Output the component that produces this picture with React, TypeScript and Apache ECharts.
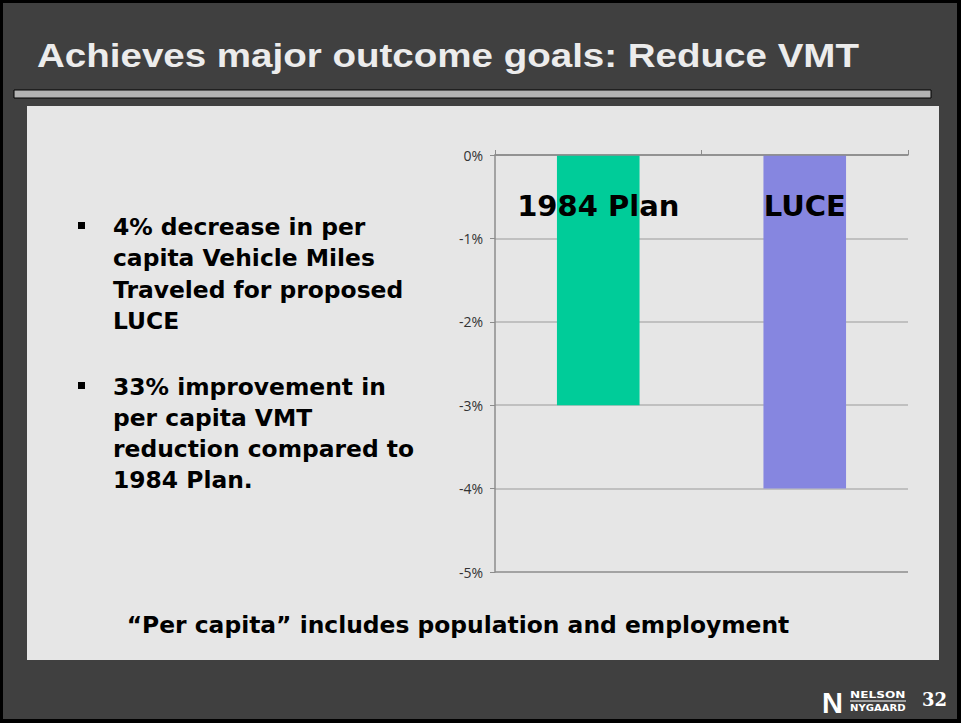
import React, { useEffect, useRef } from "react";
import * as echarts from "echarts";

const categories = ["1984 Plan", "LUCE"];
const values = [-3, -4];
const barColors = ["#00CC99", "#8686E0"];
const yMin = -5;
const yMax = 0;
const yStep = 1;

const title = "Achieves major outcome goals: Reduce VMT";
const bullet1 = ["4% decrease in per", "capita Vehicle Miles", "Traveled for proposed", "LUCE"];
const bullet2 = ["33% improvement in", "per capita VMT", "reduction compared to", "1984 Plan."];
const footnote = "\u201CPer capita\u201D includes population and employment";
const pageNumber = "32";

const BODY_FONT = "'DejaVu Sans', Verdana, sans-serif";

export default function App() {
  const ref = useRef<HTMLDivElement>(null);
  useEffect(() => {
    document.body.style.margin = "0";
    const chart = echarts.init(ref.current!, null, { renderer: "svg" });
    const gridLineColors = ["#8c8c8c", "#b3b3b3", "#b3b3b3", "#b3b3b3", "#b3b3b3", "#8c8c8c"];
    const option: any = {
      animation: false,
      backgroundColor: "#000000",
      grid: { left: 495, top: 155, width: 413, height: 417, containLabel: false },
      xAxis: {
        type: "category",
        data: categories,
        position: "top",
        axisLine: { show: true, lineStyle: { color: "#8c8c8c", width: 1.5 } },
        axisTick: { show: true, interval: 0, length: 5, alignWithLabel: false, lineStyle: { color: "#8c8c8c" } },
        axisLabel: {
          inside: true,
          interval: 0,
          hideOverlap: false,
          margin: 36,
          color: "#000000",
          fontSize: 29,
          fontWeight: "bold",
          fontFamily: BODY_FONT,
        },
        splitLine: { show: false },
        z: 10,
      },
      yAxis: {
        type: "value",
        min: yMin,
        max: yMax,
        interval: yStep,
        axisLine: { show: true, lineStyle: { color: "#8c8c8c", width: 1.5 } },
        axisTick: { show: true, length: 5, lineStyle: { color: "#8c8c8c" } },
        axisLabel: {
          formatter: "{value}%",
          color: "#333333",
          fontSize: 14,
          fontFamily: "'Open Sans', sans-serif",
          margin: 12,
        },
        splitLine: { show: true, lineStyle: { color: gridLineColors, width: 1.5 } },
      },
      series: [
        {
          type: "bar",
          data: values.map((v, i) => ({ value: v, itemStyle: { color: barColors[i] } })),
          barWidth: "40%",
          z: 2,
        },
      ],
      graphic: {
        elements: [
          { type: "rect", z: -20, silent: true, shape: { x: 3, y: 3, width: 954, height: 716 }, style: { fill: "#404040" } },
          { type: "rect", z: -19, silent: true, shape: { x: 14, y: 90, width: 917, height: 8 }, style: { fill: "#b3b3b3", stroke: "#000000", lineWidth: 1 } },
          { type: "rect", z: -19, silent: true, shape: { x: 27, y: 106, width: 912, height: 554 }, style: { fill: "#e6e6e6" } },
          {
            type: "text", z: 20, x: 37, y: 55, scaleX: 1.133, scaleY: 1,
            style: { text: title, fill: "#ececec", font: "bold 34px 'Liberation Sans', Arial, sans-serif", verticalAlign: "middle" },
          },
          { type: "rect", z: 20, shape: { x: 78, y: 222, width: 7, height: 7 }, style: { fill: "#000000" } },
          { type: "rect", z: 20, shape: { x: 78, y: 382, width: 7, height: 7 }, style: { fill: "#000000" } },
          {
            type: "text", z: 20, x: 113, y: 211,
            style: { text: bullet1.join("\n"), fill: "#000000", font: `bold 23.4px ${BODY_FONT}`, lineHeight: 31.5, verticalAlign: "top" },
          },
          {
            type: "text", z: 20, x: 113, y: 371,
            style: { text: bullet2.join("\n"), fill: "#000000", font: `bold 23.4px ${BODY_FONT}`, lineHeight: 31, verticalAlign: "top" },
          },
          {
            type: "text", z: 20, x: 458, y: 625,
            style: { text: footnote, fill: "#000000", font: `bold 23.4px ${BODY_FONT}`, align: "center", verticalAlign: "middle" },
          },
          {
            type: "text", z: 20, x: 822, y: 703,
            style: { text: "N", fill: "#ffffff", font: "bold 29px 'Liberation Sans', Arial, sans-serif", verticalAlign: "middle" },
          },
          {
            type: "text", z: 20, x: 850, y: 695, scaleX: 1.35,
            style: { text: "NELSON", fill: "#ffffff", font: "bold 9px 'DejaVu Sans', sans-serif", verticalAlign: "middle" },
          },
          { type: "line", z: 20, shape: { x1: 850, y1: 701, x2: 906, y2: 701 }, style: { stroke: "#ffffff", lineWidth: 1 } },
          {
            type: "text", z: 20, x: 850, y: 708, scaleX: 1.12,
            style: { text: "NYGAARD", fill: "#ffffff", font: "bold 9px 'DejaVu Sans', sans-serif", verticalAlign: "middle" },
          },
          {
            type: "text", z: 20, x: 934.5, y: 699,
            style: { text: pageNumber, fill: "#ffffff", font: "bold 18px 'DejaVu Serif', serif", align: "center", verticalAlign: "middle" },
          },
        ],
      },
    };
    chart.setOption(option);
    return () => chart.dispose();
  }, []);
  return <div ref={ref} style={{ position: "fixed", left: 0, top: 0, width: 961, height: 723 }} />;
}
